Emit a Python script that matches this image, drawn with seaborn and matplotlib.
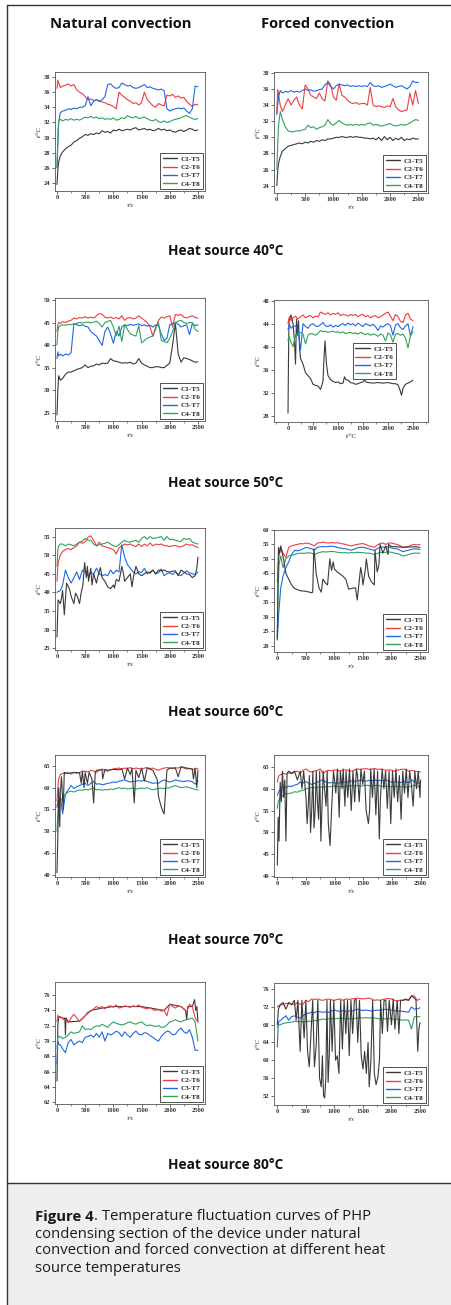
import numpy as np
import pandas as pd
import matplotlib
matplotlib.use("Agg")
import matplotlib.pyplot as plt
import seaborn as sns
from matplotlib.patches import Rectangle
from matplotlib.lines import Line2D
from matplotlib.ticker import MultipleLocator

sns.set_style("ticks")
plt.rcParams['font.family'] = ['Liberation Serif', 'DejaVu Serif']

# ---------------- DATA ----------------
GRID = [0, 15, 30, 60, 100] + list(range(150, 2501, 50))
LABELS = ["C1-T5", "C2-T6", "C3-T7", "C4-T8"]

# Natural convection, heat source 40 C
NC40_C1 = [23.8, 25.7, 26.8, 27.6, 28.1, 28.5, 28.8, 29.0, 29.4, 29.6,
           29.9, 30.1, 30.4, 30.3, 30.5, 30.4, 30.6, 30.5, 30.9, 30.7,
           30.8, 30.6, 31.0, 30.9, 31.1, 30.9, 31.0, 31.1, 31.0, 31.2,
           31.3, 31.0, 31.1, 31.2, 31.0, 31.1, 30.9, 31.0, 31.2, 31.0,
           31.1, 30.9, 31.0, 30.8, 30.7, 30.9, 31.0, 30.8, 31.0, 31.2,
           31.1, 30.9, 31.0]
NC40_C2 = [36.5, 37.6, 37.2, 36.6, 36.8, 36.9, 37.1, 36.8, 37.0, 36.3,
           36.0, 35.8, 35.4, 35.0, 35.1, 34.9, 35.0, 34.8, 34.7, 34.6,
           34.4, 34.3, 34.1, 33.8, 36.0, 35.6, 35.3, 35.0, 34.8, 34.5,
           34.6, 34.3, 34.6, 36.0, 35.0, 34.6, 34.2, 34.0, 34.5, 34.3,
           34.2, 35.6, 35.5, 35.7, 35.3, 35.5, 35.2, 35.3, 34.8, 34.4,
           34.1, 34.4, 34.3]
NC40_C3 = [26.0, 29.0, 32.0, 33.3, 33.5, 33.6, 33.8, 33.7, 33.9, 33.8,
           34.0, 34.0, 34.2, 35.4, 34.2, 34.8, 35.0, 34.8, 35.0, 35.4,
           37.0, 37.1, 36.7, 36.5, 36.6, 37.2, 37.0, 36.8, 36.9, 36.6,
           36.5, 36.6, 36.8, 37.0, 36.6, 36.7, 36.5, 36.4, 36.3, 36.4,
           36.2, 33.8, 33.5, 33.7, 33.8, 33.9, 33.8, 33.9, 33.5, 33.2,
           33.8, 36.8, 36.7]
NC40_C4 = [26.0, 30.0, 32.3, 32.4, 32.2, 32.4, 32.3, 32.5, 32.3, 32.4,
           32.3, 32.5, 32.7, 32.6, 32.8, 32.6, 32.7, 32.5, 32.6, 32.4,
           32.5, 32.4, 32.6, 32.3, 32.4, 32.6, 32.5, 32.9, 32.7, 32.6,
           32.8, 32.5, 32.6, 32.7, 32.5, 32.3, 32.2, 32.4, 32.1, 32.0,
           32.2, 32.0, 32.1, 32.3, 32.4, 32.5, 32.6, 32.8, 32.9, 32.7,
           32.5, 32.4, 32.5]

# Forced convection, heat source 40 C
FC40_C1 = [24.0, 25.8, 26.8, 27.6, 28.3, 28.6, 28.9, 29.0, 29.1, 29.2,
           29.3, 29.2, 29.4, 29.3, 29.5, 29.4, 29.6, 29.5, 29.7, 29.6,
           29.8, 29.8, 29.9, 30.0, 30.0, 30.1, 30.0, 30.0, 30.1, 30.0,
           30.1, 30.0, 30.0, 29.9, 29.9, 29.8, 29.9, 29.7, 30.0, 29.6,
           30.1, 29.7, 30.0, 29.6, 29.9, 29.7, 30.0, 29.6, 29.8, 29.7,
           29.9, 29.8, 29.8]
FC40_C2 = [33.0, 35.9, 35.3, 34.0, 33.2, 34.0, 34.8, 34.0, 34.6, 35.0,
           34.0, 33.5, 36.5, 36.0, 35.2, 35.0, 34.8, 35.5, 34.8, 34.5,
           37.0, 36.5, 35.0, 34.6, 36.6, 35.2, 35.0, 34.6, 34.3, 34.2,
           34.3, 34.1, 34.2, 34.2, 34.0, 36.2, 34.0, 33.8, 33.9, 33.8,
           33.7, 33.9, 33.8, 34.8, 33.8, 33.4, 33.2, 33.3, 33.4, 35.5,
           34.0, 35.8, 34.2]
FC40_C3 = [32.8, 34.0, 35.0, 35.8, 35.5, 35.7, 35.6, 35.8, 35.6, 35.7,
           35.6, 35.8, 36.0, 35.8, 35.9, 35.7, 35.8, 35.9, 36.0, 36.5,
           36.8, 36.3, 36.0, 36.4, 36.6, 36.5, 36.4, 36.5, 36.3, 36.4,
           36.3, 36.4, 36.3, 36.4, 36.3, 36.8, 36.4, 36.3, 36.4, 36.2,
           36.3, 36.4, 36.6, 36.4, 36.2, 36.3, 36.4, 36.2, 36.0, 36.3,
           37.0, 36.8, 36.8]
FC40_C4 = [26.0, 29.0, 31.5, 33.2, 32.2, 31.3, 30.8, 30.7, 30.7, 30.8,
           30.8, 30.9, 31.0, 31.5, 31.2, 31.3, 31.0, 31.2, 31.3, 31.5,
           32.2, 31.7, 31.5, 31.8, 32.1, 31.8, 31.6, 31.5, 31.6, 31.5,
           31.6, 31.5, 31.6, 31.5, 31.7, 31.8, 31.5, 31.6, 31.5, 31.4,
           31.5, 31.6, 31.7, 31.5, 31.4, 31.5, 31.6, 31.5, 31.6, 31.8,
           32.0, 32.2, 32.1]

# Natural convection, heat source 50 C
NC50_C1 = [24.5, 30.0, 33.2, 32.2, 32.6, 33.5, 34.0, 34.0, 34.3, 34.6,
           34.8, 35.0, 35.6, 35.0, 35.3, 35.4, 35.8, 35.6, 36.0, 35.9,
           36.0, 37.0, 36.5, 36.4, 36.2, 36.0, 36.1, 36.0, 36.2, 35.8,
           36.0, 37.0, 36.0, 35.6, 35.3, 35.0, 35.0, 35.2, 35.2, 35.0,
           35.0, 35.5, 36.0, 40.0, 44.8, 38.0, 36.2, 37.2, 37.0, 36.8,
           36.5, 36.2, 36.3]
NC50_C2 = [43.0, 44.5, 45.0, 44.8, 45.2, 45.0, 45.3, 45.5, 46.0, 45.8,
           46.1, 46.0, 46.3, 46.0, 46.2, 46.0, 46.5, 47.0, 46.8, 46.2,
           46.0, 46.2, 45.9, 46.1, 45.8, 46.5, 45.5, 46.0, 46.1, 45.8,
           46.0, 46.5, 46.0, 45.5, 45.0, 44.0, 42.0, 43.5, 45.5, 46.2,
           46.0, 46.3, 46.5, 44.0, 46.8, 46.6, 46.8, 46.2, 46.0, 46.3,
           46.5, 46.1, 46.0]
NC50_C3 = [37.0, 38.5, 37.6, 38.0, 37.6, 38.0, 37.8, 38.3, 44.8, 44.5,
           44.3, 44.5, 44.2, 44.0, 43.0, 42.5, 42.0, 41.0, 39.9, 43.0,
           44.0, 42.5, 40.4, 43.0, 42.0, 44.0, 44.5, 44.3, 44.6, 44.4,
           44.5, 44.7, 44.3, 44.5, 44.2, 44.4, 44.0, 44.5, 44.3, 42.5,
           41.0, 41.5, 44.5, 44.8, 45.0, 44.6, 44.0, 44.3, 44.5, 42.3,
           44.8, 44.3, 44.5]
NC50_C4 = [40.0, 43.0, 44.0, 44.3, 44.5, 44.4, 44.6, 44.5, 44.7, 44.8,
           45.0, 44.9, 45.0, 45.1, 44.9, 45.1, 45.3, 44.8, 44.0, 45.0,
           45.2, 45.5, 44.0, 42.0, 44.2, 40.8, 44.5, 43.5, 42.5, 42.2,
           42.0, 44.3, 40.5, 41.0, 41.5, 41.8, 42.0, 44.0, 45.0, 41.0,
           40.8, 40.5, 41.5, 43.0, 45.0, 45.3, 45.5, 45.0, 44.8, 45.0,
           45.0, 43.5, 43.0]

# Forced convection, heat source 50 C
FC50_C1_t = [0, 10, 20, 40, 60, 80, 100, 130, 150, 170,
             190, 210, 230, 250, 300, 350, 400, 450, 500, 550,
             600, 650, 700, 720, 740, 770, 800, 850, 900, 950,
             1000, 1050, 1100, 1130, 1160, 1200, 1250, 1300, 1350, 1400,
             1450, 1500, 1530, 1560, 1600, 1700, 1800, 1900, 2000, 2100,
             2150, 2200, 2240, 2270, 2300, 2350, 2400, 2450, 2500]
FC50_C1 = [28.5, 38.0, 44.5, 45.0, 45.5, 44.8, 44.0, 41.0, 37.0, 44.8,
           42.0, 44.5, 40.0, 38.0, 37.0, 35.5, 35.0, 34.5, 33.5, 33.3,
           33.2, 32.6, 34.0, 38.0, 41.0, 37.0, 35.0, 34.3, 34.0, 33.8,
           33.9, 33.6, 33.7, 34.8, 34.3, 34.2, 33.8, 33.7, 33.5, 33.6,
           33.8, 33.9, 34.2, 33.9, 33.8, 33.7, 33.8, 33.7, 33.8, 33.6,
           33.6, 33.4, 32.5, 31.6, 32.8, 33.5, 33.7, 33.9, 34.2]
FC50_C2 = [44.0, 44.8, 45.2, 44.5, 45.0, 45.3, 44.8, 45.2, 45.5, 45.0,
           45.3, 45.4, 45.0, 45.3, 45.2, 46.0, 45.8, 45.6, 45.9, 45.5,
           45.8, 45.6, 45.9, 45.4, 45.6, 45.5, 45.3, 45.6, 45.4, 45.6,
           45.2, 45.5, 45.6, 45.2, 45.4, 45.0, 45.3, 45.4, 45.0, 45.2,
           45.5, 45.8, 46.0, 45.3, 44.5, 45.6, 45.2, 44.4, 44.2, 45.5,
           45.8, 44.8, 44.5]
FC50_C3 = [43.0, 43.5, 43.8, 43.2, 43.5, 43.6, 43.0, 39.4, 44.0, 43.5,
           43.2, 43.8, 44.0, 43.6, 43.5, 43.8, 44.2, 43.6, 43.5, 43.8,
           43.4, 43.7, 43.5, 43.8, 44.0, 43.7, 44.1, 43.8, 44.0, 43.6,
           44.1, 43.8, 43.5, 44.0, 43.8, 43.6, 43.9, 43.5, 42.8, 43.6,
           43.4, 43.8, 44.0, 43.6, 42.0, 43.8, 44.0, 43.3, 43.0, 43.6,
           44.0, 41.8, 43.5]
FC50_C4 = [41.0, 41.8, 41.5, 40.8, 40.0, 42.0, 42.3, 42.5, 42.2, 40.5,
           42.0, 42.3, 42.2, 42.0, 42.3, 42.8, 42.6, 42.7, 42.5, 42.6,
           42.7, 42.5, 42.6, 42.4, 42.6, 42.3, 42.4, 42.5, 42.3, 42.4,
           42.2, 42.5, 42.3, 42.1, 42.3, 42.0, 42.2, 42.1, 41.8, 42.2,
           42.0, 41.0, 42.4, 42.0, 40.8, 42.2, 42.3, 42.0, 42.2, 41.5,
           39.8, 42.0, 42.6]

# Natural convection, heat source 60 C
NC60_C1_t = [0, 10, 20, 40, 60, 80, 100, 130, 170, 220,
             250, 300, 330, 360, 400, 430, 460, 490, 520, 540,
             560, 600, 620, 650, 700, 720, 770, 800, 850, 900,
             950, 1000, 1020, 1050, 1100, 1150, 1180, 1200, 1250, 1300,
             1330, 1360, 1400, 1450, 1500, 1550, 1600, 1650, 1700, 1750,
             1800, 1850, 1900, 1950, 2000, 2050, 2100, 2150, 2200, 2250,
             2300, 2350, 2400, 2450, 2480, 2500]
NC60_C1 = [28.0, 33.0, 38.0, 37.5, 37.0, 38.5, 40.5, 34.0, 42.5, 41.0,
           39.0, 37.0, 39.8, 39.0, 37.0, 40.0, 42.0, 48.0, 44.0, 47.0,
           43.0, 46.5, 42.0, 45.0, 42.5, 44.0, 46.7, 44.0, 43.0, 41.5,
           41.0, 42.0, 41.2, 43.5, 43.0, 47.0, 45.0, 43.0, 44.0, 45.0,
           41.5, 44.5, 47.0, 45.0, 44.5, 45.0, 45.5, 45.2, 46.0, 45.0,
           46.0, 45.8, 46.0, 45.6, 45.5, 45.7, 45.8, 44.5, 46.0, 45.5,
           45.0, 44.8, 44.0, 44.5, 46.5, 49.5]
NC60_C2 = [43.0, 47.0, 48.5, 50.0, 51.0, 51.5, 51.8, 51.5, 52.0, 52.5,
           53.5, 53.2, 53.6, 54.8, 55.2, 54.0, 52.5, 53.5, 52.5, 52.3,
           52.0, 51.8, 51.5, 50.3, 52.0, 52.5, 53.0, 52.8, 53.0, 52.6,
           52.3, 53.0, 52.3, 53.0, 52.5, 53.3, 52.5, 53.0, 52.8, 53.0,
           52.6, 52.5, 52.3, 52.5, 52.6, 52.3, 52.2, 52.6, 53.0, 52.7,
           52.8, 52.4, 52.0]
NC60_C3 = [40.0, 40.2, 40.3, 40.5, 42.0, 46.0, 44.0, 42.5, 44.0, 45.5,
           43.5, 46.0, 45.5, 44.5, 45.5, 44.8, 46.5, 45.0, 44.5, 44.8,
           44.5, 46.0, 45.0, 46.0, 45.5, 52.8, 49.5, 47.5, 46.5, 45.5,
           45.0, 45.6, 45.3, 46.5, 45.0, 45.5, 46.0, 45.0, 45.3, 46.3,
           44.5, 45.0, 45.3, 44.8, 45.5, 44.8, 44.5, 45.2, 45.8, 45.3,
           45.0, 44.8, 45.5]
NC60_C4 = [47.0, 51.5, 52.5, 53.0, 53.0, 52.5, 53.0, 52.8, 52.5, 53.0,
           53.5, 53.8, 54.5, 54.0, 54.0, 53.0, 52.5, 52.8, 53.0, 53.2,
           53.5, 53.0, 52.5, 52.3, 52.8, 53.5, 54.0, 53.6, 53.5, 53.8,
           54.0, 53.5, 54.5, 55.0, 54.3, 55.0, 54.5, 54.6, 54.8, 55.0,
           54.0, 55.0, 54.2, 54.3, 54.0, 53.8, 53.7, 54.5, 54.2, 54.5,
           53.5, 53.2, 53.0]

# Forced convection, heat source 60 C
FC60_C1_t = [0, 10, 20, 40, 60, 80, 110, 150, 200, 250,
             300, 400, 500, 600, 620, 640, 660, 680, 730, 770,
             800, 850, 880, 920, 950, 980, 1000, 1050, 1100, 1150,
             1200, 1250, 1300, 1370, 1400, 1420, 1460, 1480, 1500, 1540,
             1560, 1600, 1650, 1700, 1710, 1750, 1780, 1800, 1850, 1900,
             1940, 1950, 2000, 2100, 2200, 2300, 2400, 2500]
FC60_C1 = [22.5, 40.0, 54.0, 52.0, 54.5, 52.5, 50.0, 45.0, 43.0, 41.0,
           39.8, 39.0, 38.8, 38.3, 38.5, 53.5, 50.0, 45.0, 40.0, 38.5,
           43.0, 41.5, 41.0, 50.0, 46.0, 49.0, 46.5, 45.5, 44.8, 44.0,
           43.0, 39.5, 39.8, 40.0, 35.8, 39.5, 47.0, 45.0, 41.0, 46.0,
           50.0, 44.0, 42.0, 41.0, 53.0, 45.5, 48.0, 55.0, 52.0, 54.5,
           51.5, 55.0, 54.3, 54.2, 54.0, 54.1, 54.2, 54.0]
FC60_C2 = [42.0, 48.0, 51.0, 54.0, 52.0, 50.5, 54.0, 54.5, 54.8, 55.0,
           55.3, 55.2, 55.5, 55.3, 55.0, 54.5, 55.5, 55.6, 55.8, 55.6,
           55.5, 55.7, 55.5, 55.6, 55.4, 55.2, 55.0, 54.7, 54.5, 54.8,
           55.0, 55.2, 55.3, 55.0, 54.5, 54.3, 54.0, 54.8, 55.3, 55.5,
           55.0, 55.5, 55.5, 55.2, 55.0, 54.6, 54.0, 54.2, 54.3, 54.8,
           55.0, 54.8, 55.0]
FC60_C3 = [22.0, 28.0, 32.5, 40.0, 44.0, 47.0, 49.0, 51.5, 53.0, 52.8,
           53.0, 53.5, 54.0, 53.8, 53.5, 53.0, 54.0, 54.2, 54.3, 54.2,
           54.3, 54.4, 54.3, 54.0, 53.8, 53.6, 53.5, 53.2, 53.0, 53.4,
           53.8, 54.0, 54.0, 53.8, 53.5, 53.2, 53.0, 53.5, 54.0, 54.1,
           54.0, 54.2, 53.8, 53.6, 53.5, 53.0, 52.5, 52.8, 53.0, 53.3,
           53.5, 53.4, 53.3]
FC60_C4 = [22.0, 40.0, 48.0, 51.0, 47.0, 50.0, 51.0, 51.3, 51.5, 51.8,
           52.0, 51.9, 52.0, 52.1, 52.0, 51.5, 52.0, 52.3, 52.5, 52.4,
           52.5, 52.6, 52.5, 52.3, 52.2, 52.1, 52.2, 52.0, 52.2, 52.1,
           52.3, 52.2, 52.2, 52.0, 52.0, 51.8, 51.5, 51.9, 52.3, 52.2,
           52.3, 52.4, 52.3, 52.0, 51.8, 51.5, 51.0, 51.2, 51.5, 51.8,
           52.0, 52.0, 52.0]

# Natural convection, heat source 70 C
NC70_C1_t = [0, 10, 20, 30, 50, 60, 80, 110, 130, 200,
             300, 400, 430, 450, 480, 500, 540, 570, 620, 650,
             680, 700, 800, 810, 850, 900, 1000, 1100, 1150, 1200,
             1250, 1300, 1330, 1370, 1400, 1450, 1500, 1550, 1600, 1700,
             1780, 1800, 1840, 1880, 1900, 1930, 1950, 2000, 2100, 2150,
             2200, 2300, 2400, 2420, 2450, 2480, 2500]
NC70_C1 = [40.5, 46.0, 52.0, 60.0, 51.0, 59.0, 62.5, 55.0, 63.5, 63.3,
           63.5, 63.4, 61.0, 63.8, 60.0, 63.5, 61.0, 63.5, 62.0, 56.5,
           63.5, 64.0, 64.1, 62.0, 64.2, 64.0, 64.2, 64.1, 64.3, 62.0,
           64.5, 63.0, 64.5, 56.5, 64.0, 62.3, 64.5, 61.5, 64.5, 64.0,
           61.8, 58.0, 56.0, 54.5, 54.0, 60.0, 64.0, 64.5, 64.5, 62.5,
           64.8, 64.5, 64.3, 62.0, 64.5, 60.0, 64.0]
NC70_C2 = [57.0, 60.0, 62.0, 63.0, 63.3, 63.2, 63.4, 63.1, 63.5, 63.3,
           63.5, 63.7, 63.8, 63.6, 64.0, 63.8, 63.5, 64.0, 64.3, 63.9,
           63.8, 64.1, 64.3, 64.4, 64.5, 64.3, 64.5, 64.4, 64.6, 64.3,
           64.5, 64.4, 64.2, 64.5, 64.6, 64.4, 64.5, 64.2, 64.0, 64.3,
           64.5, 64.6, 64.5, 64.4, 64.6, 64.5, 64.8, 64.5, 64.3, 64.4,
           64.2, 64.3, 64.4]
NC70_C3 = [55.5, 57.0, 55.0, 58.0, 54.0, 58.5, 59.5, 60.5, 59.8, 60.2,
           60.5, 60.8, 61.0, 60.5, 61.0, 61.5, 60.8, 60.9, 60.7, 60.8,
           61.0, 61.1, 61.3, 61.2, 61.5, 61.6, 61.8, 61.5, 61.3, 61.4,
           61.5, 61.6, 61.5, 61.7, 61.4, 61.2, 61.0, 61.1, 61.0, 61.5,
           61.8, 61.5, 61.3, 61.5, 61.8, 61.6, 61.5, 61.4, 61.6, 61.5,
           61.4, 60.8, 61.5]
NC70_C4 = [50.0, 53.5, 56.0, 57.0, 57.5, 58.5, 59.0, 59.2, 59.0, 59.3,
           59.5, 59.4, 59.6, 59.5, 59.7, 60.0, 59.5, 59.6, 59.4, 59.6,
           59.5, 59.7, 59.6, 59.8, 60.0, 59.8, 59.9, 59.7, 59.8, 59.9,
           59.7, 59.8, 59.9, 59.8, 60.0, 59.7, 59.5, 59.7, 59.8, 59.9,
           59.8, 59.9, 60.0, 60.3, 60.5, 60.2, 60.0, 60.1, 60.2, 60.0,
           59.8, 59.6, 59.5]

# Forced convection, heat source 70 C
FC70_C1_t = [0, 15, 30, 50, 70, 90, 110, 130, 150, 170,
             200, 250, 300, 350, 400, 430, 460, 500, 520, 540,
             560, 580, 600, 620, 640, 660, 680, 700, 720, 740,
             760, 780, 800, 830, 850, 870, 890, 920, 950, 980,
             1000, 1020, 1050, 1080, 1100, 1130, 1150, 1180, 1200, 1230,
             1260, 1290, 1320, 1350, 1380, 1400, 1430, 1460, 1490, 1520,
             1550, 1570, 1590, 1610, 1630, 1660, 1690, 1720, 1750, 1780,
             1800, 1830, 1860, 1890, 1920, 1950, 1980, 2010, 2040, 2070,
             2100, 2130, 2160, 2190, 2220, 2250, 2280, 2310, 2340, 2370,
             2400, 2430, 2460, 2490, 2500]
FC70_C1 = [42.5, 53.5, 48.0, 61.5, 57.0, 64.0, 58.0, 62.0, 48.0, 63.5,
           64.0, 63.5, 64.0, 62.0, 64.0, 60.0, 64.0, 58.0, 52.0, 56.0,
           63.0, 50.0, 55.0, 64.0, 51.0, 55.0, 64.0, 57.0, 53.0, 64.0,
           48.0, 56.0, 64.0, 59.0, 56.0, 64.0, 52.0, 47.0, 56.0, 64.0,
           62.0, 59.0, 64.5, 53.5, 64.0, 60.0, 64.5, 56.0, 64.0, 58.0,
           64.5, 55.0, 64.0, 57.0, 64.5, 63.0, 57.0, 64.5, 61.0, 64.0,
           55.0, 53.5, 52.0, 55.0, 64.5, 58.0, 64.5, 54.0, 64.0, 48.5,
           58.0, 64.5, 60.0, 64.0, 55.5, 64.0, 52.0, 64.0, 58.0, 64.5,
           57.0, 63.0, 53.0, 64.0, 59.0, 64.5, 58.0, 64.0, 61.0, 56.0,
           64.0, 60.0, 64.0, 58.0, 62.0]
FC70_C2 = [61.5, 62.5, 63.0, 63.2, 63.5, 63.3, 63.6, 63.4, 63.8, 64.0,
           63.5, 64.2, 64.5, 64.0, 63.8, 64.0, 64.2, 64.5, 63.5, 64.0,
           64.2, 64.1, 64.3, 64.2, 64.0, 64.3, 64.3, 64.1, 64.0, 64.3,
           64.5, 64.4, 64.5, 64.6, 64.4, 64.5, 64.6, 64.4, 64.5, 64.3,
           64.2, 64.3, 64.2, 64.0, 64.2, 64.4, 64.5, 64.3, 64.0, 64.2,
           64.0, 63.9, 63.8]
FC70_C3 = [58.5, 59.0, 59.5, 60.0, 60.5, 60.3, 60.6, 60.5, 60.8, 61.0,
           61.5, 61.3, 61.6, 61.2, 61.0, 61.2, 61.5, 61.8, 62.0, 61.5,
           61.3, 61.4, 61.3, 61.2, 61.4, 61.5, 61.5, 61.6, 61.8, 61.7,
           61.8, 61.9, 61.8, 61.7, 61.9, 61.8, 62.0, 61.8, 61.9, 61.8,
           62.0, 61.7, 61.5, 61.6, 61.5, 61.4, 61.6, 61.5, 61.4, 62.0,
           61.5, 61.3, 61.3]
FC70_C4 = [55.5, 57.0, 57.5, 58.0, 58.5, 58.8, 58.9, 59.0, 59.3, 59.2,
           59.5, 59.6, 60.0, 60.1, 60.3, 60.2, 60.3, 60.4, 60.3, 60.5,
           60.4, 60.5, 60.6, 60.5, 60.4, 60.5, 60.6, 60.5, 60.7, 60.6,
           60.7, 60.6, 60.7, 60.8, 60.7, 60.6, 60.7, 60.8, 60.6, 60.5,
           60.6, 60.4, 60.5, 60.6, 60.5, 60.4, 60.5, 60.3, 60.4, 60.6,
           60.8, 60.5, 60.3]

# Natural convection, heat source 80 C
NC80_C1_t = [0, 15, 30, 100, 140, 150, 160, 200, 400, 600,
             800, 1000, 1500, 1900, 2000, 2200, 2280, 2300, 2320, 2400,
             2440, 2460, 2480, 2500]
NC80_C1 = [64.8, 72.0, 73.2, 73.0, 73.0, 70.8, 73.0, 72.5, 72.6, 74.0,
           74.3, 74.5, 74.5, 74.0, 74.8, 74.5, 74.0, 72.8, 74.5, 74.5,
           75.4, 74.0, 74.5, 72.5]
NC80_C2 = [72.5, 73.4, 73.0, 73.2, 72.9, 72.7, 72.4, 73.0, 73.5, 73.0,
           72.6, 72.9, 73.3, 73.8, 73.9, 74.2, 74.5, 74.3, 74.5, 74.2,
           74.5, 74.6, 74.4, 74.7, 74.3, 74.4, 74.6, 74.5, 74.4, 74.6,
           74.5, 74.7, 74.4, 74.3, 74.2, 74.4, 74.1, 74.0, 74.1, 73.9,
           74.0, 73.3, 74.8, 74.5, 74.3, 74.6, 74.5, 74.2, 73.8, 74.8,
           74.5, 73.0, 72.5]
NC80_C3 = [67.0, 70.0, 69.6, 69.5, 69.0, 68.5, 69.8, 70.2, 69.5, 69.8,
           70.0, 69.8, 70.5, 70.6, 70.8, 70.5, 71.0, 70.5, 71.2, 70.0,
           71.0, 70.8, 71.0, 71.3, 71.1, 70.6, 71.2, 70.8, 70.5, 71.0,
           71.3, 70.9, 70.8, 71.1, 71.0, 70.7, 70.5, 70.2, 70.0, 70.6,
           71.0, 71.3, 71.2, 70.8, 70.9, 71.4, 71.7, 71.2, 71.0, 71.5,
           70.5, 68.8, 68.8]
NC80_C4 = [69.0, 70.7, 70.5, 70.6, 70.3, 70.5, 70.8, 71.2, 71.0, 71.1,
           71.2, 72.0, 71.5, 71.6, 71.5, 71.8, 72.0, 71.9, 72.2, 72.0,
           71.8, 72.2, 72.5, 72.3, 72.2, 72.1, 72.2, 72.4, 72.5, 72.3,
           72.2, 72.4, 72.5, 72.2, 72.0, 72.1, 72.0, 71.9, 72.0, 71.8,
           71.8, 72.1, 72.5, 72.6, 72.8, 72.6, 72.5, 72.7, 72.8, 72.9,
           73.0, 72.5, 70.0]

# Forced convection, heat source 80 C
FC80_C1_t = [0, 20, 50, 100, 150, 200, 250, 300, 330, 360,
             400, 430, 470, 500, 530, 560, 590, 620, 650, 680,
             710, 740, 770, 790, 810, 830, 850, 870, 890, 910,
             930, 960, 990, 1020, 1050, 1080, 1110, 1140, 1170, 1200,
             1230, 1260, 1290, 1320, 1350, 1380, 1410, 1440, 1470, 1500,
             1530, 1560, 1590, 1610, 1640, 1670, 1700, 1730, 1760, 1790,
             1810, 1840, 1870, 1900, 1930, 1960, 2000, 2030, 2060, 2100,
             2130, 2160, 2200, 2250, 2300, 2350, 2400, 2430, 2460, 2480,
             2500]
FC80_C1 = [68.0, 71.5, 72.5, 73.0, 71.5, 73.0, 72.5, 73.5, 69.0, 73.5,
           62.0, 73.5, 65.0, 73.5, 62.0, 58.5, 66.0, 73.5, 58.5, 63.0,
           73.5, 56.0, 54.0, 61.0, 52.0, 51.5, 56.0, 73.5, 55.0, 61.0,
           73.5, 62.0, 73.5, 60.0, 61.0, 57.0, 73.5, 62.5, 73.5, 66.0,
           73.5, 61.0, 73.5, 66.0, 73.5, 73.8, 64.0, 73.5, 61.0, 58.0,
           62.0, 57.0, 64.0, 54.0, 60.0, 73.5, 57.0, 54.5, 56.0, 60.0,
           73.5, 66.0, 73.5, 73.5, 66.5, 73.5, 68.0, 73.8, 67.0, 73.5,
           66.0, 73.5, 73.5, 73.8, 73.5, 74.5, 74.0, 73.5, 62.0, 67.0,
           68.5]
FC80_C2 = [72.0, 72.3, 72.2, 72.5, 72.5, 72.8, 72.8, 72.6, 72.5, 73.0,
           72.6, 72.6, 73.5, 73.2, 73.8, 73.7, 73.8, 73.6, 73.5, 73.7,
           73.8, 73.6, 73.5, 73.7, 73.8, 73.5, 73.8, 73.7, 73.8, 73.9,
           74.0, 73.9, 73.8, 73.9, 74.0, 73.8, 73.5, 73.6, 73.5, 73.7,
           73.8, 73.9, 73.8, 73.5, 73.3, 73.5, 73.5, 73.6, 73.5, 74.5,
           74.5, 73.5, 73.8]
FC80_C3 = [63.0, 68.0, 68.8, 69.0, 69.5, 70.0, 69.0, 69.8, 70.0, 69.7,
           69.5, 70.0, 70.5, 70.6, 70.8, 70.7, 71.0, 70.9, 70.8, 70.9,
           70.8, 71.1, 71.3, 71.1, 71.0, 71.2, 71.0, 71.1, 71.0, 71.3,
           71.5, 71.3, 71.2, 71.3, 71.2, 71.1, 71.2, 71.3, 71.2, 71.4,
           71.5, 71.4, 71.3, 71.2, 71.0, 71.1, 71.0, 70.9, 70.8, 72.0,
           71.5, 71.6, 71.8]
FC80_C4 = [67.5, 67.8, 68.0, 68.0, 68.3, 68.4, 68.5, 68.6, 68.8, 68.7,
           68.7, 68.6, 68.7, 68.8, 68.7, 68.9, 69.0, 69.1, 69.3, 69.2,
           69.3, 69.4, 69.3, 69.4, 69.5, 69.4, 69.3, 69.4, 69.3, 69.4,
           69.5, 69.6, 69.5, 69.6, 69.5, 69.6, 69.5, 69.4, 69.3, 69.4,
           69.3, 69.4, 69.3, 69.2, 69.3, 69.1, 69.0, 69.1, 69.0, 67.0,
           69.8, 69.8, 69.8]

COL_TITLES = ["Natural convection", "Forced convection"]
ROW_TITLES = ["Heat source 40°C", "Heat source 50°C", "Heat source 60°C",
              "Heat source 70°C", "Heat source 80°C"]
CAPTION_BOLD = "Figure 4"
CAPTION_LINES = [". Temperature fluctuation curves of PHP",
                 "condensing section of the device under natural",
                 "convection and forced convection at different heat",
                 "source temperatures"]

COLORS = ["#3a3a3a", "#f23c3c", "#1f68e8", "#2fa35c"]

# ---------------- LAYOUT ----------------
W, H = 451, 1305
fig = plt.figure(figsize=(W / 100, H / 100), dpi=100)
fig.patch.set_facecolor("white")

def rect(l, r, t, b):
    return [l / W, 1 - b / H, (r - l) / W, (b - t) / H]

def series(t, v):
    assert len(t) == len(v), (len(t), len(v))
    return (list(t), list(v))

panels = [
    dict(box=(55, 205, 72, 191), xlim=(-35, 2625), ylim=(22.94, 38.66), yt=(24, 38, 2),
         data=[series(GRID, NC40_C1), series(GRID, NC40_C2), series(GRID, NC40_C3), series(GRID, NC40_C4)],
         xl="τ/s", top=False, leg=None),
    dict(box=(274, 428, 72, 193), xlim=(-50, 2670), ylim=(23.1, 38.1), yt=(24, 38, 2),
         data=[series(GRID, FC40_C1), series(GRID, FC40_C2), series(GRID, FC40_C3), series(GRID, FC40_C4)],
         xl="τ/s", top=False, leg=None),
    dict(box=(55, 205, 298, 421), xlim=(-35, 2625), ylim=(23.16, 50.44), yt=(25, 50, 5),
         data=[series(GRID, NC50_C1), series(GRID, NC50_C2), series(GRID, NC50_C3), series(GRID, NC50_C4)],
         xl="τ/s", top=False, leg=None),
    dict(box=(274, 428, 300, 422), xlim=(-280, 2800), ylim=(26.96, 48.1), yt=(28, 48, 4),
         data=[series(FC50_C1_t, FC50_C1), series(GRID, FC50_C2), series(GRID, FC50_C3), series(GRID, FC50_C4)],
         xl="t/°C", top=False, leg=(0.5, 0.66)),
    dict(box=(55, 205, 528, 650), xlim=(-35, 2625), ylim=(24.55, 57.3), yt=(25, 55, 5),
         data=[series(NC60_C1_t, NC60_C1), series(GRID, NC60_C2), series(GRID, NC60_C3), series(GRID, NC60_C4)],
         xl="τ/s", top=True, leg=None),
    dict(box=(274, 428, 530, 652), xlim=(-58, 2640), ylim=(17.8, 60.0), yt=(20, 60, 5),
         data=[series(FC60_C1_t, FC60_C1), series(GRID, FC60_C2), series(GRID, FC60_C3), series(GRID, FC60_C4)],
         xl="τ/s", top=True, leg=None),
    dict(box=(55, 205, 755, 877), xlim=(-35, 2625), ylim=(39.5, 67.5), yt=(40, 65, 5),
         data=[series(NC70_C1_t, NC70_C1), series(GRID, NC70_C2), series(GRID, NC70_C3), series(GRID, NC70_C4)],
         xl="τ/s", top=True, leg=None),
    dict(box=(274, 428, 755, 877), xlim=(-58, 2630), ylim=(39.8, 67.7), yt=(40, 65, 5),
         data=[series(FC70_C1_t, FC70_C1), series(GRID, FC70_C2), series(GRID, FC70_C3), series(GRID, FC70_C4)],
         xl="τ/s", top=True, leg=None),
    dict(box=(55, 205, 982, 1104), xlim=(-35, 2625), ylim=(61.8, 77.7), yt=(62, 76, 2),
         data=[series(NC80_C1_t, NC80_C1), series(GRID, NC80_C2), series(GRID, NC80_C3), series(GRID, NC80_C4)],
         xl="τ/s", top=False, leg=None),
    dict(box=(274, 428, 983, 1105), xlim=(-58, 2640), ylim=(49.9, 77.4), yt=(52, 76, 4),
         data=[series(FC80_C1_t, FC80_C1), series(GRID, FC80_C2), series(GRID, FC80_C3), series(GRID, FC80_C4)],
         xl="τ/s", top=True, leg=None),
]

tick_font = dict(family="Liberation Serif", weight="bold", size=4.7)

for p in panels:
    ax = fig.add_axes(rect(*p["box"]))
    for i, (t, v) in enumerate(p["data"]):
        z = 2 + i
        if i == 0 and p["top"]:
            z = 6
        df = pd.DataFrame({"t": t, "T": v})
        sns.lineplot(data=df, x="t", y="T", ax=ax, color=COLORS[i], lw=0.8,
                     label=LABELS[i], zorder=z, estimator=None)
    ax.set_xlim(*p["xlim"])
    ax.set_ylim(*p["ylim"])
    ax.set_xticks(range(0, 2501, 500))
    ax.xaxis.set_minor_locator(MultipleLocator(250))
    y0, y1, ys = p["yt"]
    ax.set_yticks(np.arange(y0, y1 + 0.01, ys))
    ax.set_xticklabels([str(v) for v in range(0, 2501, 500)], fontdict=tick_font)
    ax.set_yticklabels([f"{v:g}" for v in np.arange(y0, y1 + 0.01, ys)], fontdict=tick_font)
    ax.tick_params(axis="both", which="major", direction="out", length=2, width=0.5,
                   pad=1.2, colors="#333333")
    ax.tick_params(axis="x", which="minor", direction="out", length=1.2, width=0.4,
                   colors="#333333")
    for s in ax.spines.values():
        s.set_visible(True)
        s.set_color("#555555")
        s.set_linewidth(0.6)
    ax.set_xlabel(p["xl"], fontsize=4.8, family="Liberation Serif", style="italic", labelpad=1.5)
    ax.set_ylabel("t/°C", fontsize=4.8, family="Liberation Serif", style="italic", labelpad=1.5)
    ax.grid(False)
    leg_kw = dict(frameon=True, fancybox=False, framealpha=1,
                  edgecolor="#333333", handlelength=2.0, handletextpad=0.5,
                  borderpad=0.35, labelspacing=0.3, borderaxespad=0.25,
                  prop=dict(family="Liberation Serif", weight="bold", size=5.2))
    if p["leg"] is None:
        lg = ax.legend(loc="lower right", **leg_kw)
    else:
        lg = ax.legend(loc="upper left", bbox_to_anchor=p["leg"], **leg_kw)
    lg.get_frame().set_linewidth(0.6)
    for h in lg.get_lines():
        h.set_linewidth(1.0)

# titles
col_font = dict(family=["Open Sans", "DejaVu Sans"], weight="bold", size=10.6)
row_font = dict(family=["Open Sans", "DejaVu Sans"], weight="bold", size=9.8)
fig.text(121 / W, 1 - 24 / H, COL_TITLES[0], ha="center", va="center", color="#111111", **col_font)
fig.text(328 / W, 1 - 24 / H, COL_TITLES[1], ha="center", va="center", color="#111111", **col_font)
for ytxt, rt in zip([251, 483, 712, 940, 1165], ROW_TITLES):
    fig.text(226 / W, 1 - ytxt / H, rt, ha="center", va="center", color="#111111", **row_font)

# frame and caption box
fig.add_artist(Rectangle((7 / W, 0), 1 - 7 / W, (H - 1183) / H, transform=fig.transFigure,
                         facecolor="#efefef", edgecolor="none", zorder=0))
lc = "#333333"
fig.add_artist(Line2D([7 / W, 7 / W], [0, 1 - 5 / H], color=lc, lw=1.0, transform=fig.transFigure))
fig.add_artist(Line2D([7 / W, 1], [1 - 5 / H, 1 - 5 / H], color=lc, lw=1.0, transform=fig.transFigure))
fig.add_artist(Line2D([7 / W, 1], [1 - 1183 / H, 1 - 1183 / H], color=lc, lw=1.0, transform=fig.transFigure))

cap_font = dict(family=["Open Sans", "DejaVu Sans"], size=10.7, color="#1a1a1a")
cap_y = [1217, 1234, 1251, 1268]
tb = fig.text(35 / W, 1 - cap_y[0] / H, CAPTION_BOLD, ha="left", va="center", weight="bold", **cap_font)
fig.canvas.draw()
bb = tb.get_window_extent(renderer=fig.canvas.get_renderer())
x_after = bb.x1 / fig.bbox.width
fig.text(x_after, 1 - cap_y[0] / H, CAPTION_LINES[0], ha="left", va="center", **cap_font)
for yy, line in zip(cap_y[1:], CAPTION_LINES[1:]):
    fig.text(35 / W, 1 - yy / H, line, ha="left", va="center", **cap_font)

fig.savefig("out.png", dpi=100)
